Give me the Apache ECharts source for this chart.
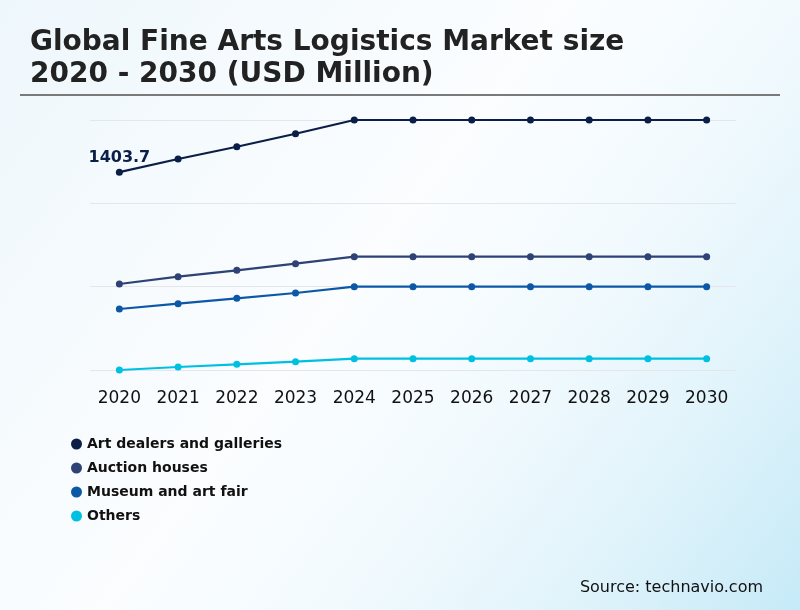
<!DOCTYPE html>
<html>
<head>
<meta charset="utf-8">
<script src="https://cdn.jsdelivr.net/npm/echarts@6/dist/echarts.min.js"></script>
<style>
html,body{margin:0;padding:0;}
#c{width:800px;height:610px;}
</style>
</head>
<body>
<div id="c"></div>
<script>
const years = ['2020','2021','2022','2023','2024','2025','2026','2027','2028','2029','2030'];
const artDealers = [1403.7,1469.5,1530.7,1595.6,1664,1664,1664,1664,1664,1664,1664];
const auctionHouses = [845.3,881.8,913.7,946.6,981.6,981.6,981.6,981.6,981.6,981.6,981.6];
const museumArtFair = [720.5,747,773.9,800.4,832,832,832,832,832,832,832];
const others = [416,431,444.5,457.4,472.4,472.4,472.4,472.4,472.4,472.4,472.4];
const seriesNames = ['Art dealers and galleries','Auction houses','Museum and art fair','Others'];
const seriesColors = ['#0b1e47','#2f4276','#0c58a6','#00c0e2'];
const yMin = 416, yInterval = 416, yMax = 1664;

const chart = echarts.init(document.getElementById('c'));
const dataSets = [artDealers, auctionHouses, museumArtFair, others];
const series = dataSets.map((d, i) => ({
  name: seriesNames[i],
  type: 'line',
  data: d,
  symbol: 'circle',
  symbolSize: 7,
  lineStyle: {width: 2.2, color: seriesColors[i]},
  itemStyle: {color: seriesColors[i]},
  clip: false,
  z: 10 - i,
  label: {
    show: true,
    position: 'top',
    distance: 3,
    fontFamily: 'DejaVu Sans',
    fontWeight: 'bold',
    fontSize: 16,
    color: seriesColors[i],
    formatter: p => (i === 0 && p.dataIndex === 0) ? String(p.value) : ''
  }
}));

chart.setOption({
  backgroundColor: {
    type: 'linear', x: 0, y: 0, x2: 1, y2: 1,
    colorStops: [
      {offset: 0, color: '#eef7fc'},
      {offset: 0.45, color: '#fbfdff'},
      {offset: 0.63, color: '#f2fafe'},
      {offset: 0.8, color: '#e2f4fb'},
      {offset: 1, color: '#c6eaf8'}
    ]
  },
  animation: false,
  title: {
    text: 'Global Fine Arts Logistics Market size\n2020 - 2030 (USD Million)',
    left: 25, top: 22,
    textStyle: {
      fontFamily: 'DejaVu Sans',
      fontWeight: 'bold',
      fontSize: 28,
      lineHeight: 32,
      color: '#222222'
    }
  },
  graphic: [
    {type: 'line', shape: {x1: 20, y1: 95, x2: 780, y2: 95}, style: {stroke: '#7a7a7a', lineWidth: 2}},
    {type: 'text', right: 37, top: 580, style: {text: 'Source: technavio.com', font: '16px "DejaVu Sans"', fill: '#111111'}}
  ],
  legend: {
    orient: 'vertical',
    left: 66, top: 432,
    itemGap: 10,
    itemWidth: 11, itemHeight: 11,
    icon: 'circle',
    data: seriesNames,
    textStyle: {fontFamily: 'DejaVu Sans', fontWeight: 'bold', fontSize: 14, color: '#111111'}
  },
  grid: {left: 90, right: 64, top: 120, bottom: 240},
  xAxis: {
    type: 'category',
    data: years,
    boundaryGap: true,
    axisLine: {show: false},
    axisTick: {show: false},
    axisLabel: {fontFamily: 'DejaVu Sans', fontSize: 17, color: '#111111', margin: 20}
  },
  yAxis: {
    type: 'value',
    min: yMin, max: yMax, interval: yInterval,
    axisLabel: {show: false},
    axisLine: {show: false},
    axisTick: {show: false},
    splitLine: {lineStyle: {color: '#e4e6ea', width: 1}}
  },
  series: series
});
</script>
</body>
</html>
